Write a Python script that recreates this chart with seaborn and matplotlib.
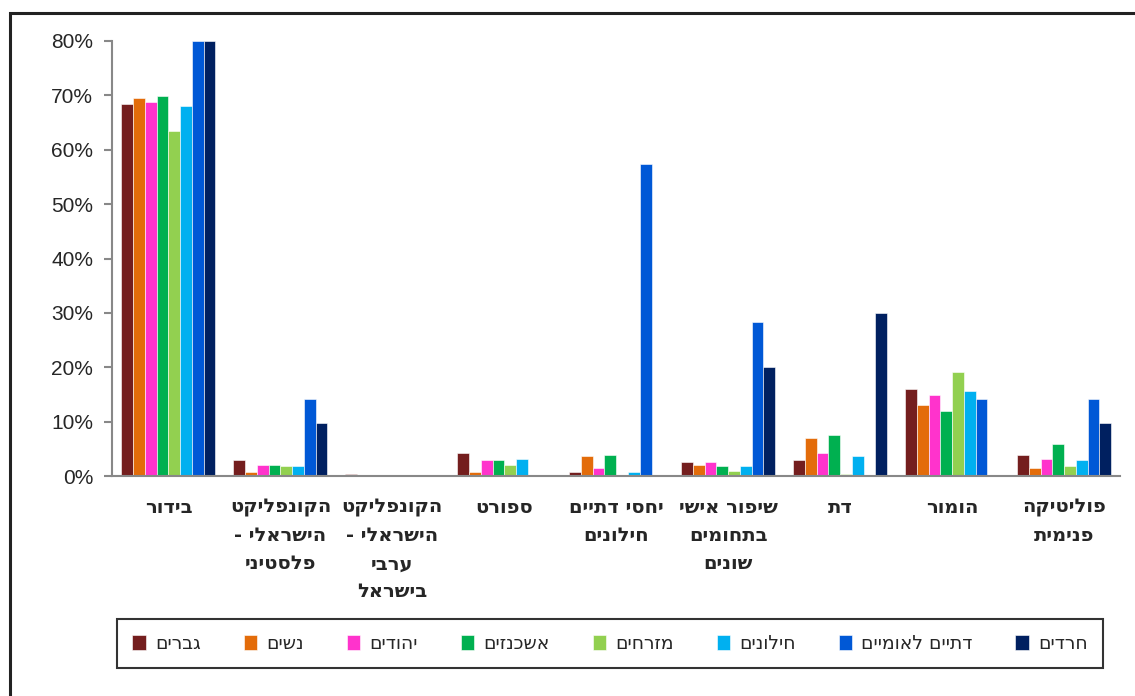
import numpy as np
import pandas as pd
import seaborn as sns
import matplotlib.pyplot as plt
from matplotlib.patches import Rectangle

# categories (logical Hebrew order, line breaks as in the chart)
categories = ["בידור",
              "הקונפליקט\nהישראלי -\nפלסטיני",
              "הקונפליקט\nהישראלי -\nערבי\nבישראל",
              "ספורט",
              "יחסי דתיים\nחילונים",
              "שיפור אישי\nבתחומים\nשונים",
              "דת",
              "הומור",
              "פוליטיקה\nפנימית"]

groups = ["גברים", "נשים", "יהודים", "אשכנזים", "מזרחים", "חילונים", "דתיים לאומיים", "חרדים"]

# percent values per group, one number per category
men       = [68.5, 2.9, 0.4, 4.3, 0.7, 2.5, 2.9, 16.0, 3.9]
women     = [69.5, 0.7, 0.0, 0.7, 3.6, 2.1, 6.9, 13.1, 1.4]
jews      = [68.8, 2.1, 0.0, 2.9, 1.4, 2.5, 4.3, 14.9, 3.2]
ashkenazi = [69.9, 2.1, 0.0, 2.9, 3.9, 1.8, 7.6, 12.0, 5.8]
mizrahi   = [63.4, 1.8, 0.0, 2.1, 0.0, 1.0, 0.3, 19.2, 1.8]
secular   = [68.0, 1.8, 0.0, 3.2, 0.7, 1.8, 3.6, 15.7, 2.9]
nat_rel   = [80.0, 14.2, 0.0, 0.0, 57.4, 28.4, 0.0, 14.2, 14.2]
haredi    = [80.0, 9.8, 0.0, 0.0, 0.0, 20.0, 29.9, 0.0, 9.8]

colors = ["#741E1E", "#E36C0A", "#FF33CC", "#00B050", "#92D050", "#00B0F0", "#0058D6", "#002060"]

ytick_vals = [0, 10, 20, 30, 40, 50, 60, 70, 80]


def vis(s):
    # matplotlib has no bidi support: draw each line right-to-left by reversing it
    return "\n".join(ln[::-1] for ln in s.split("\n"))


series = [men, women, jews, ashkenazi, mizrahi, secular, nat_rel, haredi]
rows = []
for g, vals in zip(groups, series):
    for c, v in zip(categories, vals):
        rows.append({"cat": vis(c), "group": vis(g), "val": v / 100})
df = pd.DataFrame(rows)

sns.set_style("white")
plt.rcParams["font.family"] = ["Liberation Sans", "DejaVu Sans"]

fig = plt.figure(figsize=(11.35, 6.96), dpi=100)
ax = fig.add_axes([112.5 / 1135, 1 - 476 / 696, (1120 - 112.5) / 1135, (476 - 41) / 696])

sns.barplot(data=df, x="cat", y="val", hue="group", palette=colors, width=0.84, saturation=1,
            edgecolor="white", linewidth=0.4, ax=ax, legend=True)

ax.set_ylim(0, 0.8)
ax.set_xlim(-0.5, len(categories) - 0.5)
ax.set_yticks([v / 100 for v in ytick_vals])
ax.set_yticklabels([f"{v}%" for v in ytick_vals], fontsize=15)
ax.set_xlabel("")
ax.set_ylabel("")

ax.set_xticks(np.arange(len(categories)))
ax.set_xticklabels([vis(c) for c in categories], fontsize=14, fontweight="bold",
                   family="DejaVu Sans", linespacing=1.6, va="top")
ax.set_xticks(np.arange(-0.5, len(categories)), minor=True)
ax.tick_params(axis="x", which="major", length=0, pad=16)
ax.tick_params(axis="x", which="minor", length=6, width=1.5, color="#888888", direction="out")
ax.tick_params(axis="y", length=6, width=1.5, color="#888888", direction="out", left=True, pad=8)

for s in ["top", "right"]:
    ax.spines[s].set_visible(False)
for s in ["left", "bottom"]:
    ax.spines[s].set_color("#888888")
    ax.spines[s].set_linewidth(1.5)

handles, labels = ax.get_legend_handles_labels()
ax.get_legend().remove()
leg = fig.legend(handles, labels, loc="center", ncol=8, mode="expand",
                 bbox_to_anchor=(108 / 1135, 1 - 671 / 696, 1004 / 1135, 55 / 696),
                 frameon=True, fancybox=False, edgecolor="black",
                 handlelength=0.7, handleheight=0.9, handletextpad=0.5,
                 prop={"family": "DejaVu Sans", "size": 13.5}, borderpad=0.8)
leg.get_frame().set_linewidth(1.5)

# outer chart border
fig.add_artist(Rectangle((10 / 1135, -0.1), 1.2, 1 - 13.5 / 696 + 0.1, transform=fig.transFigure,
                         fill=False, edgecolor="#222222", linewidth=2.2))

fig.savefig("out.png", dpi=100)
